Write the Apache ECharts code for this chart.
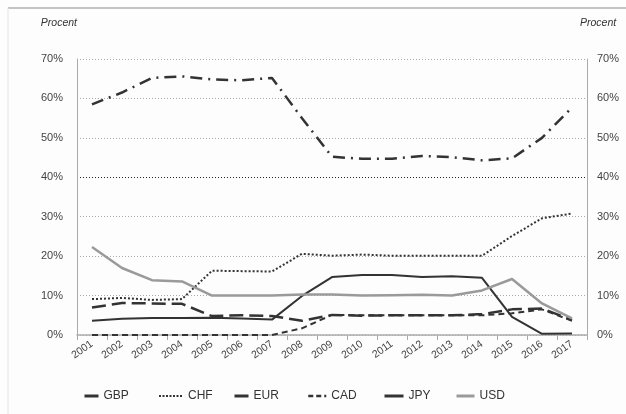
<!DOCTYPE html>
<html>
<head>
<meta charset="utf-8">
<script src="https://cdn.jsdelivr.net/npm/echarts@6/dist/echarts.min.js"></script>
<style>
html, body { margin: 0; padding: 0; background: #fdfdfd; }
#chart { width: 626px; height: 414px; }
</style>
</head>
<body>
<div id="chart"></div>
<script>
var years = ['2001', '2002', '2003', '2004', '2005', '2006', '2007', '2008', '2009',
    '2010', '2011', '2012', '2013', '2014', '2015', '2016', '2017'];
var gbp = [58.5, 61.5, 65.2, 65.6, 64.8, 64.6, 65.2, 55, 45.2, 44.7, 44.7, 45.4, 45.1, 44.3, 44.8, 50, 57.7];
var chf = [9.1, 9.4, 8.9, 9.1, 16.3, 16.2, 16.1, 20.6, 20.1, 20.4, 20.1, 20.1, 20.1, 20.1, 25.1, 29.6, 30.8];
var eur = [7.0, 8.1, 8.0, 7.9, 4.8, 5.0, 4.8, 3.6, 5.1, 4.9, 5.0, 5.0, 5.0, 5.3, 6.5, 6.7, 3.8];
var cad = [0, 0, 0, 0, 0, 0, 0, 1.7, 5.1, 5.0, 5.0, 5.0, 5.0, 5.0, 5.5, 6.5, 3.6];
var jpy = [3.6, 4.1, 4.3, 4.3, 4.4, 4.2, 3.9, 9.9, 14.7, 15.2, 15.2, 14.7, 14.9, 14.5, 4.6, 0.3, 0.4];
var usd = [22.3, 17.0, 13.9, 13.6, 10.0, 10.0, 10.0, 10.3, 10.3, 10.0, 10.1, 10.2, 10.0, 11.3, 14.2, 8.0, 4.2];
var yTicks = [0, 10, 20, 30, 40, 50, 60, 70];

var dark = '#333333';
var font = 'Liberation Sans, Arial, sans-serif';

function line(name, data, color, width, dash) {
    return {
        name: name, type: 'line', data: data, symbol: 'none',
        lineStyle: { color: color, width: width, type: dash },
        itemStyle: { color: color }
    };
}

function legendAt(name, x, w, dash, lw) {
    return {
        data: [name], left: x, top: 385, itemWidth: w, itemHeight: 10, itemGap: 4,
        itemStyle: { opacity: 0 },
        lineStyle: { type: dash, width: lw },
        textStyle: { fontFamily: font, fontSize: 12, color: '#333' }
    };
}

function yAxis(pos) {
    return {
        type: 'value', position: pos, min: yTicks[0], max: yTicks[yTicks.length - 1], interval: 10,
        name: 'Procent', nameLocation: 'end', nameGap: 30,
        nameTextStyle: { fontFamily: font, fontSize: 10.5, fontStyle: 'italic', color: '#333',
            align: pos === 'left' ? 'right' : 'left', padding: pos === 'left' ? [0, 0, 0, 0] : [0, 0, 0, -7] },
        axisLine: { show: true, lineStyle: { color: '#aaa', width: 1 } },
        axisTick: { show: false },
        axisLabel: { formatter: '{value}%', fontFamily: font, fontSize: 11, color: '#444', margin: pos === 'left' ? 14 : 10 },
        splitLine: pos === 'left' ? {
            show: true,
            lineStyle: { type: [1, 2], width: 1,
                color: ['#aaa', '#aaa', '#aaa', '#aaa', '#222', '#aaa', '#aaa', '#aaa'] }
        } : { show: false }
    };
}

var myChart = echarts.init(document.getElementById('chart'));
var option = {
    backgroundColor: '#fdfdfd',
    animation: false,
    graphic: [
        { type: 'line', shape: { x1: 8, y1: 8, x2: 626, y2: 8 }, style: { stroke: '#c4c4c4', lineWidth: 2 } },
        { type: 'line', shape: { x1: 8, y1: 8, x2: 8, y2: 414 }, style: { stroke: '#e4e4e4', lineWidth: 1 } }
    ],
    grid: { left: 77, right: 39, top: 59, bottom: 79 },
    legend: [
        legendAt('GBP', 78, 14, 'solid', 3),
        legendAt('CHF', 153, 24, [2, 1.5], 2),
        legendAt('EUR', 228, 14, 'solid', 3),
        legendAt('CAD', 302, 18, [5, 3], 2.5),
        legendAt('JPY', 378, 19, 'solid', 3),
        legendAt('USD', 450, 18, 'solid', 3)
    ],
    xAxis: {
        type: 'category', data: years, boundaryGap: true,
        axisLine: { lineStyle: { color: '#aaa', width: 1.5 } },
        axisTick: { show: true, length: 5, lineStyle: { color: '#aaa' } },
        axisLabel: { rotate: 35, fontFamily: font, fontSize: 10.5, color: '#444', margin: 8, interval: 0 }
    },
    yAxis: [yAxis('left'), yAxis('right')],
    series: [
        line('GBP', gbp, dark, 2.5, [12, 6, 2, 6]),
        line('CHF', chf, dark, 2, [2, 2]),
        line('EUR', eur, dark, 2.5, [14, 6]),
        line('CAD', cad, dark, 2, [6, 4]),
        line('JPY', jpy, dark, 2, 'solid'),
        line('USD', usd, '#9a9a9a', 2.5, 'solid')
    ]
};
myChart.setOption(option);
</script>
</body>
</html>
